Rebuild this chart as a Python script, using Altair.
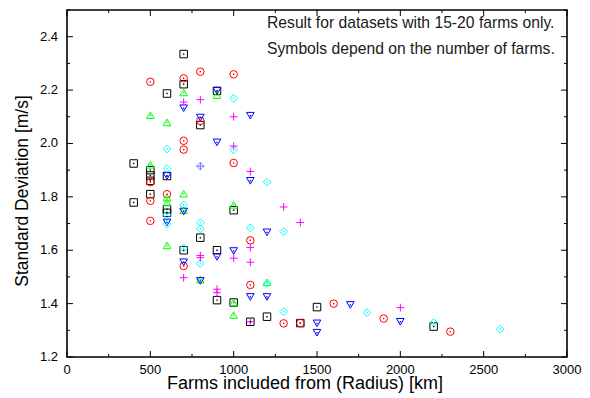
import altair as alt
import pandas as pd

# ---- series styling (one entry per symbol group) ----
series_names = ["15 farms", "16 farms", "17 farms", "18 farms", "19 farms", "20 farms"]
series_colors = ["#000000", "#ff0000", "#00ff00", "#0000ff", "#00ffff", "#ff00ff"]
series_shapes = ["square", "circle", "triangle-up", "triangle-down", "diamond", "M-1,0H1M0,-1V1"]
series_sizes = [56, 60, 80, 80, 75, 90]

# ---- data ----
sq_x = [400, 400, 500, 500, 500, 500, 600, 600, 600, 600, 700, 700, 700, 800, 800,
        900, 900, 900, 1000, 1000, 1100, 1200, 1400, 1500, 2200]
sq_y = [1.925, 1.779, 1.90, 1.88, 1.86, 1.81, 2.187, 1.878, 1.754, 1.74, 2.335, 2.222, 1.60,
        2.069, 1.647, 2.197, 1.60, 1.413, 1.75, 1.404, 1.332, 1.351, 1.327, 1.387, 1.314]

ci_x = [500, 500, 500, 500, 600, 700, 700, 700, 700, 800, 800, 1000, 1000, 1100, 1100,
        1300, 1400, 1600, 1900, 2300]
ci_y = [2.231, 1.855, 1.785, 1.71, 1.81, 2.244, 2.01, 1.977, 1.541, 2.269, 2.085, 2.259,
        1.927, 1.637, 1.47, 1.326, 1.327, 1.40, 1.344, 1.295]

tu_x = [500, 500, 600, 600, 600, 600, 700, 700, 700, 800, 900, 1000, 1000, 1000, 1200]
tu_y = [2.106, 1.92, 2.079, 1.797, 1.779, 1.618, 2.191, 1.812, 1.75, 1.49, 2.181, 1.77,
        1.404, 1.357, 1.48]

td_x = [600, 600, 700, 700, 700, 800, 800, 900, 900, 900, 1000, 1100, 1100, 1100, 1200,
        1200, 1500, 1500, 1700, 2000]
td_y = [1.878, 1.704, 2.132, 1.745, 1.555, 2.097, 1.485, 2.197, 2.004, 1.575, 1.597, 2.104,
        1.86, 1.425, 1.667, 1.425, 1.326, 1.291, 1.395, 1.332]

di_x = [600, 600, 600, 600, 700, 700, 800, 800, 800, 800, 1000, 1000, 1100, 1200, 1200,
        1300, 1300, 1800, 2200, 2600]
di_y = [1.979, 1.906, 1.733, 1.698, 1.77, 1.608, 1.915, 1.704, 1.68, 1.55, 2.169, 1.976,
        1.684, 1.855, 1.475, 1.67, 1.37, 1.366, 1.329, 1.304]

pl_x = [700, 700, 800, 800, 800, 800, 900, 900, 1000, 1000, 1000, 1100, 1100, 1100, 1100,
        1300, 1400, 2000]
pl_y = [2.155, 1.497, 2.164, 1.915, 1.58, 1.572, 1.454, 1.441, 2.10, 1.99, 1.57, 1.895,
        1.61, 1.555, 1.332, 1.762, 1.704, 1.385]

x_domain = [0, 3000]
y_domain = [1.2, 2.5]
x_major = [0, 500, 1000, 1500, 2000, 2500, 3000]
x_minor = [250, 750, 1250, 1750, 2250, 2750]
y_major = [1.2, 1.4, 1.6, 1.8, 2.0, 2.2, 2.4]
y_minor = [1.3, 1.5, 1.7, 1.9, 2.1, 2.3, 2.5]

x_title = "Farms included from (Radius) [km]"
y_title = "Standard Deviation [m/s]"
x_title_at = [1428, 1.2]      # centre of the x title (data units; drawn below the frame)
y_title_at = [-262, 1.822]    # centre of the y title (data units; drawn left of the frame)

note_lines = ["Result for datasets with 15-20 farms only.",
              "Symbols depend on the number of farms."]
note_x = [1200, 1200]
note_y = [2.452, 2.355]

# ---- build tables ----
all_x = [sq_x, ci_x, tu_x, td_x, di_x, pl_x]
all_y = [sq_y, ci_y, tu_y, td_y, di_y, pl_y]
rows = []
for name, xs, ys in zip(series_names, all_x, all_y):
    for xv, yv in zip(xs, ys):
        rows.append({"x": xv, "y": yv, "series": name})
df = pd.DataFrame(rows)
df_note = pd.DataFrame({"x": note_x, "y": note_y, "text": note_lines})
df_frame = pd.DataFrame({"x": [x_domain[0]], "x1": [x_domain[1]],
                         "y": [y_domain[0]], "y1": [y_domain[1]]})
df_xlab = pd.DataFrame({"x": x_major, "y": [y_domain[0]] * len(x_major),
                        "text": [str(v) for v in x_major]})
df_ylab = pd.DataFrame({"x": [x_domain[0]] * len(y_major), "y": y_major,
                        "text": [f"{v:.1f}" for v in y_major]})
df_xtitle = pd.DataFrame({"x": [x_title_at[0]], "y": [x_title_at[1]], "text": [x_title]})
df_ytitle = pd.DataFrame({"x": [y_title_at[0]], "y": [y_title_at[1]], "text": [y_title]})

FONT = "Liberation Sans"
xscale = alt.Scale(domain=x_domain, nice=False, zero=False)
yscale = alt.Scale(domain=y_domain, nice=False, zero=False)
color_scale = alt.Scale(domain=series_names, range=series_colors)

X = alt.X("x:Q", scale=xscale, axis=None)
Y = alt.Y("y:Q", scale=yscale, axis=None)

points = alt.Chart(df).mark_point(filled=False, strokeWidth=1, opacity=1).encode(
    x=X, y=Y,
    color=alt.Color("series:N", scale=color_scale, legend=None),
    shape=alt.Shape("series:N", scale=alt.Scale(domain=series_names, range=series_shapes),
                    legend=None),
    size=alt.Size("series:O", scale=alt.Scale(domain=series_names, range=series_sizes),
                  legend=None),
)

dots = alt.Chart(df).transform_filter(
    alt.datum.series != series_names[-1]
).mark_point(filled=True, shape="square", size=2, opacity=1).encode(
    x=X, y=Y,
    color=alt.Color("series:N", scale=color_scale, legend=None),
)

note = alt.Chart(df_note).mark_text(align="left", baseline="middle", fontSize=15.7,
                                    font=FONT, color="#1a1a1a").encode(
    x=X, y=Y, text="text:N",
)

xlabels = alt.Chart(df_xlab).mark_text(align="center", baseline="middle", fontSize=13,
                                       font=FONT, color="black", dy=13).encode(
    x=X, y=Y, text="text:N",
)
ylabels = alt.Chart(df_ylab).mark_text(align="right", baseline="middle", fontSize=13,
                                       font=FONT, color="black", dx=-9).encode(
    x=X, y=Y, text="text:N",
)
xtitle = alt.Chart(df_xtitle).mark_text(align="center", baseline="middle", fontSize=18,
                                        font=FONT, color="black", dy=27).encode(
    x=X, y=Y, text="text:N",
)
ytitle = alt.Chart(df_ytitle).mark_text(align="center", baseline="middle", fontSize=17.5,
                                        font=FONT, color="black", angle=270).encode(
    x=X, y=Y, text="text:N",
)

frame = alt.Chart(df_frame).mark_rect(fillOpacity=0, stroke="black", strokeWidth=1.6).encode(
    x=X, x2="x1:Q", y=Y, y2="y1:Q",
)


def x_ticks(vals, edge, length, inward):
    data = pd.DataFrame({"x": vals, "y": [edge] * len(vals)})
    return alt.Chart(data).mark_tick(
        orient="vertical", size=length, thickness=1, color="black", opacity=1,
        yOffset=inward * length / 2,
    ).encode(x=X, y=Y)


def y_ticks(vals, edge, length, inward):
    data = pd.DataFrame({"y": vals, "x": [edge] * len(vals)})
    return alt.Chart(data).mark_tick(
        orient="horizontal", size=length, thickness=1, color="black", opacity=1,
        xOffset=inward * length / 2,
    ).encode(x=X, y=Y)


layers = [
    points,
    dots,
    note,
    x_ticks(x_major, y_domain[0], 6, -1),
    x_ticks(x_minor, y_domain[0], 3, -1),
    x_ticks(x_major, y_domain[1], 6, 1),
    x_ticks(x_minor, y_domain[1], 3, 1),
    y_ticks(y_major, x_domain[0], 6, 1),
    y_ticks(y_minor, x_domain[0], 3, 1),
    y_ticks(y_major, x_domain[1], 6, -1),
    y_ticks(y_minor, x_domain[1], 3, -1),
    frame,
    xlabels,
    ylabels,
    xtitle,
    ytitle,
]

chart = alt.layer(*layers).properties(
    width=500, height=347,
    padding={"left": 14, "top": 9, "right": 5, "bottom": 5},
).configure_view(
    stroke="transparent"
)

chart.save("out.html", embed_options={"renderer": "svg", "actions": False})
